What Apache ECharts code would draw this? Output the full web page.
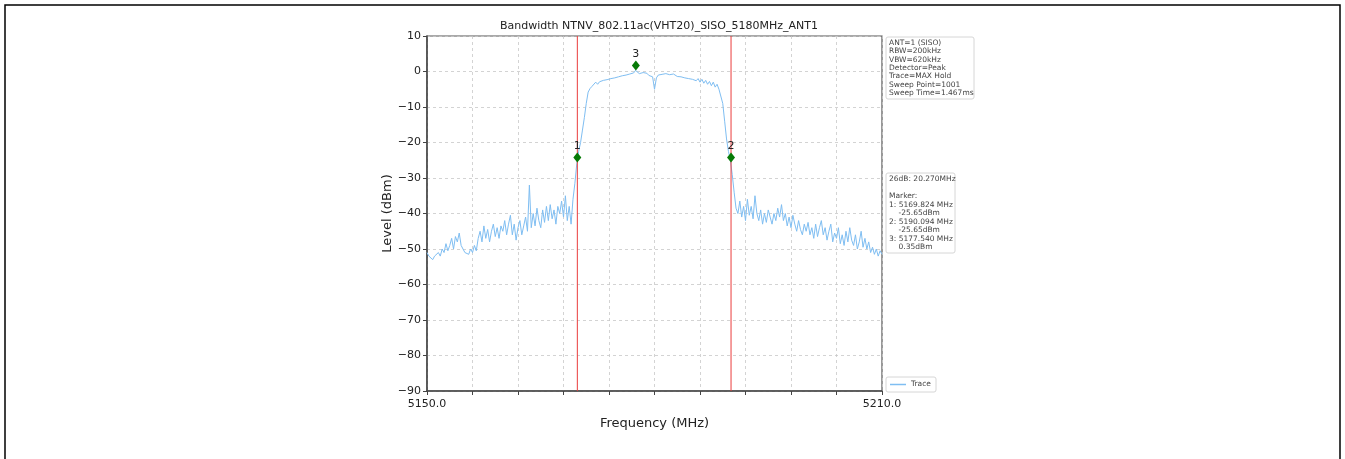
<!DOCTYPE html>
<html>
<head>
<meta charset="utf-8">
<script src="https://cdn.jsdelivr.net/npm/echarts@6/dist/echarts.min.js"></script>
<style>
html,body{margin:0;padding:0;background:#fff;}
#chart{width:1345px;height:459px;}
</style>
</head>
<body>
<div id="chart"></div>
<script>
const titleText = 'Bandwidth NTNV_802.11ac(VHT20)_SISO_5180MHz_ANT1';
const freqStart = 5150;
const freqStep = 0.25;
const traceLevels = [
-51,-52,-51.5,-53,
-52,-52.5,-51,-52,
-50,-51,-48.5,-50.5,
-49,-47,-50,-46.5,
-48,-45.5,-49,-50,
-51,-50.5,-51.5,-50,
-51,-49,-50.5,-47,
-45,-48,-43.5,-47,
-44.5,-48,-45,-43,
-46.5,-44,-47,-43.5,
-45,-42,-46,-43,
-40.5,-46,-43,-47.5,
-44,-42,-46,-43.5,
-41,-45,-32,-44,
-40,-43.5,-38.5,-42,
-44,-39,-42.5,-38,
-42,-37.5,-41.5,-39,
-43,-38,-40,-36.5,
-41,-35,-42,-38,
-43,-36,-31.5,-26,
-22.5,-20,-16.5,-13,
-9,-5.8,-4.8,-4.2,
-3.8,-3,-3.6,-2.9,
-3.1,-2.5,-3,-2.3,
-2.6,-2,-2.4,-1.8,
-2.2,-1.5,-1.9,-1.2,
-1.6,-1,-1.4,-0.7,
-1.1,-0.4,0.3,-0.2,
-0.6,-0.9,-0.3,-0.8,
-0.5,-1.1,-0.7,-1.5,
-5,-1.8,-1,-1.4,
-0.8,-1.2,-0.6,-1,
-0.9,-1.3,-0.7,-1.1,
-1.4,-0.9,-1.5,-1.2,
-1.8,-1.3,-2,-1.6,
-2.2,-1.8,-2.6,-2,
-3,-2.2,-3.3,-2.5,
-3.6,-2.8,-4,-3,
-4.4,-3.6,-5,-5.5,
-9,-14,-19,-22.5,
-25,-29,-34,-38.5,
-40,-36.5,-41,-38,
-42,-36,-40.5,-38,
-41.5,-35,-40,-42,
-39,-43,-40,-42.5,
-39,-41,-43,-40,
-42,-38.5,-41,-37.5,
-42,-40,-43.5,-41,
-44,-40.5,-43,-45,
-42,-44.5,-46,-43,
-45,-42.5,-46,-44,
-47,-43,-46.5,-44,
-42,-46,-44,-47.5,
-45,-43,-48,-45.5,
-47,-44,-48.5,-46,
-49,-45,-48,-44,
-47.5,-49,-46,-50,
-48,-45,-49.5,-47,
-50,-48,-51,-49.5,
-51.5,-50,-52,-50.5,
-51.5
];
const markerNames = ['1','2','3'];
const markerFreqs = [5169.824, 5190.094, 5177.540];
const markerLevels = [-24.2, -24.2, 1.7];
const boundaryFreqs = [5169.824, 5190.094];
const yMin = -90, yMax = 10;
const xTickLabels = ['5150.0','5210.0'];
const infoLines = ['ANT=1 (SISO)','RBW=200kHz','VBW=620kHz','Detector=Peak','Trace=MAX Hold','Sweep Point=1001','Sweep Time=1.467ms'];
const markerInfoLines = ['26dB: 20.270MHz','','Marker:','1: 5169.824 MHz','    -25.65dBm','2: 5190.094 MHz','    -25.65dBm','3: 5177.540 MHz','    0.35dBm'];

const traceData = traceLevels.map((v,i)=>[freqStart + i*freqStep, v]);
const markerData = markerFreqs.map((f,i)=>({value:[f, markerLevels[i]], name: markerNames[i]}));
const boundarySeries = boundaryFreqs.map((f,i)=>({
  type:'line', name:'bound'+i, data:[[f,yMin],[f,yMax]], symbol:'none', silent:true,
  lineStyle:{color:'#ea3c3c', width:1}, z:4
}));

const FONT = 'DejaVu Sans';
const chart = echarts.init(document.getElementById('chart'), null, {renderer:'canvas'});
chart.setOption({
  animation:false,
  backgroundColor:'#fff',
  textStyle:{fontFamily:FONT},
  title:{text:titleText, left:654, top:16, textAlign:'center',
    textStyle:{fontFamily:FONT, fontSize:11, fontWeight:'normal', color:'#222'}},
  grid:{left:427, right:463, top:36, bottom:68, show:true, borderColor:'#555', borderWidth:1.2},
  xAxis:{type:'value', min:5150, max:5210, interval:6,
    name:'Frequency (MHz)', nameLocation:'middle', nameGap:26,
    nameTextStyle:{fontFamily:FONT, fontSize:13, color:'#222'},
    axisLine:{show:true, onZero:false, lineStyle:{color:'#444', width:1.5}},
    axisTick:{show:true, length:4, inside:false, lineStyle:{color:'#444'}},
    axisLabel:{fontFamily:FONT, fontSize:11, color:'#222', margin:8,
      formatter:(v)=>{ if(Math.abs(v-5150)<1e-6) return xTickLabels[0]; if(Math.abs(v-5210)<1e-6) return xTickLabels[1]; return ''; }},
    splitLine:{show:true, lineStyle:{color:'#c8c8c8', type:[3,3], width:0.8}}},
  yAxis:{type:'value', min:yMin, max:yMax, interval:10,
    name:'Level (dBm)', nameLocation:'middle', nameGap:33, nameRotate:90,
    nameTextStyle:{fontFamily:FONT, fontSize:13, color:'#222'},
    axisLine:{show:true, onZero:false, lineStyle:{color:'#444', width:1.5}},
    axisTick:{show:true, length:4, lineStyle:{color:'#444'}},
    axisLabel:{fontFamily:FONT, fontSize:11, color:'#222', margin:6,
      formatter:(v)=> v<0 ? '\u2212'+Math.abs(v) : String(v)},
    splitLine:{show:true, lineStyle:{color:'#c8c8c8', type:[3,3], width:0.8}}},
  series:[
    {type:'line', name:'Trace', data:traceData, showSymbol:false, symbol:'none',
      lineStyle:{color:'#7fbef2', width:1}, z:3},
    ...boundarySeries,
    {type:'scatter', name:'Markers', data:markerData, symbol:'diamond', symbolSize:[8,10],
      itemStyle:{color:'#067a06', opacity:1}, z:5,
      label:{show:true, position:'top', distance:1, formatter:(p)=>p.name,
        fontFamily:FONT, fontSize:11, color:'#222'}}
  ],
  graphic:[
    {type:'rect', shape:{x:5, y:5, width:1335, height:460}, style:{fill:'none', stroke:'#000', lineWidth:1.5}, silent:true},
    {type:'rect', shape:{x:886, y:37, width:88, height:62, r:2}, style:{fill:'#fff', stroke:'#d6d6d6', lineWidth:1}},
    {type:'text', x:889, y:39, style:{text:infoLines.join('\n'), font:'7.5px "DejaVu Sans"', fill:'#444', lineHeight:8.3}},
    {type:'rect', shape:{x:886, y:173, width:69, height:80, r:2}, style:{fill:'#fff', stroke:'#d6d6d6', lineWidth:1}},
    {type:'text', x:889, y:175, style:{text:markerInfoLines.join('\n'), font:'7.5px "DejaVu Sans"', fill:'#444', lineHeight:8.5}},
    {type:'rect', shape:{x:886, y:377, width:50, height:15, r:2}, style:{fill:'#fff', stroke:'#d6d6d6', lineWidth:1}},
    {type:'line', shape:{x1:890, y1:384.5, x2:906, y2:384.5}, style:{stroke:'#7fbef2', lineWidth:1.5}},
    {type:'text', x:911, y:380, style:{text:'Trace', font:'7.5px "DejaVu Sans"', fill:'#444'}}
  ]
});
</script>
</body>
</html>
